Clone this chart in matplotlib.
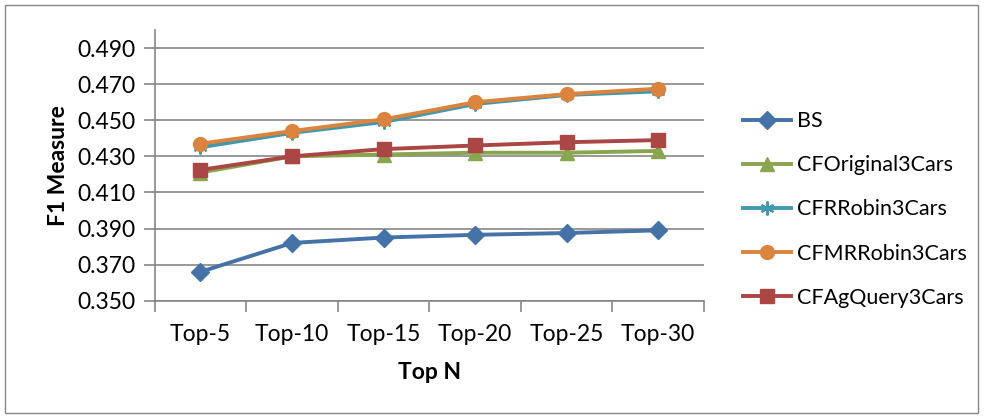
import matplotlib
matplotlib.use("Agg")
import matplotlib.pyplot as plt
from matplotlib.patches import Rectangle

plt.rcParams['font.family'] = ['Lato', 'DejaVu Sans']

categories = ["Top-5", "Top-10", "Top-15", "Top-20", "Top-25", "Top-30"]
bs = [0.366, 0.382, 0.385, 0.3865, 0.3875, 0.389]
cf_original = [0.421, 0.430, 0.431, 0.432, 0.432, 0.433]
cf_rrobin = [0.435, 0.443, 0.449, 0.459, 0.464, 0.466]
cf_mrrobin = [0.437, 0.444, 0.4505, 0.460, 0.4645, 0.4675]
cf_agquery = [0.4225, 0.430, 0.434, 0.436, 0.4378, 0.439]
y_ticks = [0.350, 0.370, 0.390, 0.410, 0.430, 0.450, 0.470, 0.490]

series = [
    ("BS", bs, "#4572A7", dict(marker="D", markersize=9)),
    ("CFOriginal3Cars", cf_original, "#89A54E", dict(marker="^", markersize=10)),
    ("CFRRobin3Cars", cf_rrobin, "#4198AF", dict(marker=(6, 2, 0), markersize=10, markeredgewidth=1.5)),
    ("CFMRRobin3Cars", cf_mrrobin, "#DB843D", dict(marker="o", markersize=10)),
    ("CFAgQuery3Cars", cf_agquery, "#AA4643", dict(marker="s", markersize=10)),
]

fs = 16.5
legend_fs = 15.5

fig = plt.figure(figsize=(9.85, 4.18), dpi=100)
fig.patches.append(Rectangle((5 / 985, 5 / 418), 973 / 985, 408 / 418,
                             transform=fig.transFigure, fill=False,
                             edgecolor="#868686", linewidth=1.0))

ax = fig.add_axes([154.7 / 985, 1 - 300.7 / 418, (704 - 154.7) / 985, (300.7 - 30) / 418])

x = list(range(len(categories)))
for name, vals, color, style in series:
    ax.plot(x, vals, color=color, linewidth=2.8, label=name,
            markerfacecolor=color, markeredgecolor=color, **style)

ax.set_xlim(-0.5, len(categories) - 0.5)
ax.set_ylim(0.350, 0.500)
ax.set_yticks(y_ticks)
ax.set_yticklabels([f"{v:.3f}" for v in y_ticks])
ax.set_xticks(x)
ax.set_xticklabels(categories)
ax.tick_params(axis="x", length=0, pad=17, labelsize=fs)
ax.set_xticks([i - 0.5 for i in range(len(categories) + 1)], minor=True)
ax.tick_params(axis="x", which="minor", length=8, width=1.2, color="#868686", direction="out")
ax.tick_params(axis="y", length=8, width=1.2, color="#868686", direction="out", labelsize=fs, pad=6)

ax.grid(axis="y", color="#868686", linewidth=1.2)
ax.set_axisbelow(True)
for side in ["top", "right"]:
    ax.spines[side].set_visible(False)
for side in ["left", "bottom"]:
    ax.spines[side].set_color("#868686")
    ax.spines[side].set_linewidth(1.2)

ax.set_xlabel("Top N", fontsize=fs, fontweight="bold", labelpad=12)
ax.set_ylabel("F1 Measure", fontsize=fs, fontweight="bold", labelpad=6)

ax.legend(loc="center left", bbox_to_anchor=(1.052, 0.337), frameon=False, borderpad=0,
          fontsize=legend_fs, labelspacing=1.12, handlelength=2.2, handletextpad=0.3)

fig.savefig("out.png", dpi=100)
